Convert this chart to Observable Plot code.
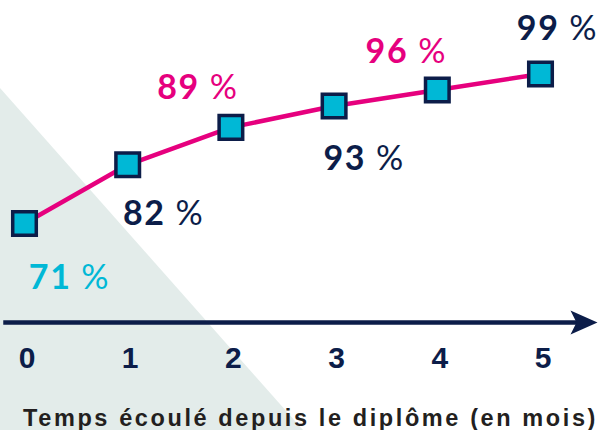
<!DOCTYPE html>
<html>
<head>
<meta charset="utf-8">
<script src="https://cdn.jsdelivr.net/npm/d3@7"></script>
<script src="https://cdn.jsdelivr.net/npm/@observablehq/plot@0.6"></script>
<style>
  html, body { margin: 0; padding: 0; background: #ffffff; }
  #wrap { position: relative; width: 601px; height: 430px; overflow: hidden; }
  #bg { position: absolute; left: 0; top: 0; width: 601px; height: 430px;
        background: #e3ecea; clip-path: polygon(0 88px, 303px 430px, 0 430px); }
  #chart { position: absolute; left: 0; top: 0; }
  #chart svg { background: transparent !important; overflow: visible; }
  .axistitle text { letter-spacing: 2.6px; }
  .ticklbl text { letter-spacing: 1px; }
  .ratelabel text { letter-spacing: 1.6px; }
</style>
</head>
<body>
<div id="wrap"><div id="bg"></div><div id="chart"></div></div>
<script>
// ---- data ----
const months = [0, 1, 2, 3, 4, 5];
const rates = [71, 82, 89, 93, 96, 99];
const rateLabels = ["71 %", "82 %", "89 %", "93 %", "96 %", "99 %"];
const axisTitle = "Temps écoulé depuis le diplôme (en mois)";

// ---- style ----
const PINK = "#e6007e", CYAN = "#00b8d6", NAVY = "#0c1d49";
const labelColors = [CYAN, NAVY, PINK, NAVY, PINK, NAVY];
const labelOffsets = [[45, 55], [36, 49], [-33, -39], [30, 53], [-31, -38], [17, -45]];

const rows = months.map((m, i) => ({month: m, rate: rates[i], label: rateLabels[i]}));

const arrowHead = {
  draw(ctx) {
    ctx.moveTo(14, 0);
    ctx.lineTo(-13, -12);
    ctx.lineTo(-7, 0);
    ctx.lineTo(-13, 12);
    ctx.closePath();
  }
};

const labelMarks = rows.map((r, i) => Plot.text([r], {
  x: "month", y: "rate", text: "label",
  fill: labelColors[i], dx: labelOffsets[i][0], dy: labelOffsets[i][1],
  fontSize: 34, fontWeight: 700, fontFamily: "Lato",
  className: "ratelabel"
}));

const chart = Plot.plot({
  width: 601,
  height: 430,
  marginLeft: 5,
  marginRight: 18,
  marginTop: 0,
  marginBottom: 108,
  style: {background: "transparent", overflow: "visible"},
  x: {domain: [0, 5], range: [24, 540], axis: null},
  y: {domain: [71, 99], range: [223, 73.5], axis: null},
  marks: [
    Plot.frame({anchor: "bottom", stroke: NAVY, strokeWidth: 4.5, strokeOpacity: 1}),
    Plot.dot([0], {frameAnchor: "bottom-right", symbol: arrowHead, fill: NAVY, stroke: "none", r: 5}),
    Plot.text(months, {
      x: d => d, text: d => String(d), frameAnchor: "bottom", dx: 3, dy: 36, lineAnchor: "middle",
      fontSize: 30, fontWeight: 700, fontFamily: "Liberation Sans", fill: NAVY,
      className: "ticklbl"
    }),
    Plot.text([axisTitle], {
      text: d => d, frameAnchor: "bottom", dx: 16, dy: 96, lineAnchor: "middle",
      fontSize: 23.5, fontWeight: 700, fontFamily: "Liberation Sans", fill: "#231f20",
      className: "axistitle"
    }),
    Plot.line(rows, {x: "month", y: "rate", stroke: PINK, strokeWidth: 4.5}),
    Plot.dot(rows, {x: "month", y: "rate", symbol: "square", r: 13.3, fill: CYAN, stroke: NAVY, strokeWidth: 3.5}),
    ...labelMarks
  ]
});

document.getElementById("chart").appendChild(chart);

// make the "%" sign lighter, as in the reference
d3.select(chart).selectAll(".ratelabel text").each(function() {
  const t = d3.select(this);
  const s = t.text();
  const parts = s.split(" ");
  t.text(null);
  t.append("tspan").text(parts[0] + "\u00a0");
  t.append("tspan").attr("font-weight", 400).text(parts[1]);
});
</script>
</body>
</html>
